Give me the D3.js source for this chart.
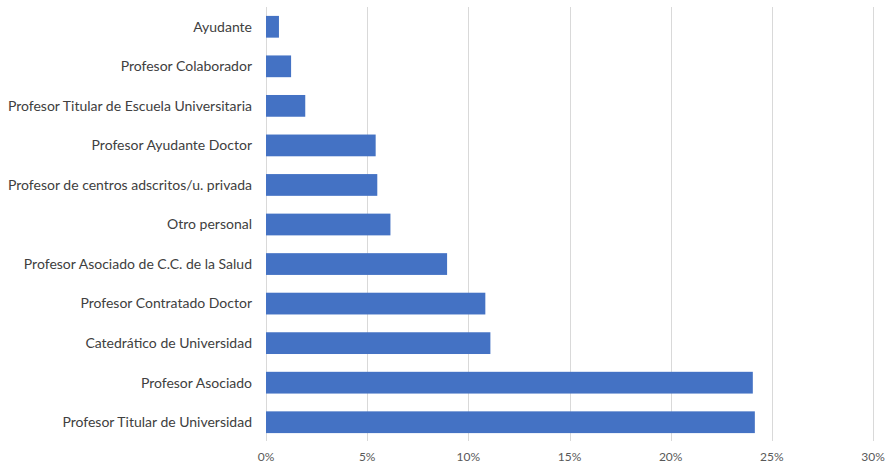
<!DOCTYPE html>
<html>
  <head>
    <meta charset="utf-8" />
    <title>Personal por categoría</title>
    <script src="https://d3js.org/d3.v7.min.js"></script>
  </head>
  <style>
    body {
      margin: 0;
      background-color: white;
    }
    .cat-label {
      font-family: "Lato", "Open Sans", sans-serif;
      font-size: 14px;
      fill: #404040;
    }
    .tick-label {
      font-family: "Lato", "Open Sans", sans-serif;
      font-size: 12px;
      fill: #595959;
    }
  </style>
  <body>
    <div id="chart"></div>
    <script>

    // categories, top to bottom
    var categories = [
      "Ayudante",
      "Profesor Colaborador",
      "Profesor Titular de Escuela Universitaria",
      "Profesor Ayudante Doctor",
      "Profesor de centros adscritos/u. privada",
      "Otro personal",
      "Profesor Asociado de C.C. de la Salud",
      "Profesor Contratado Doctor",
      "Catedrático de Universidad",
      "Profesor Asociado",
      "Profesor Titular de Universidad"
    ];

    // share of staff, percent
    var values = [0.64, 1.24, 1.94, 5.42, 5.50, 6.15, 8.95, 10.84, 11.09, 24.06, 24.16];

    var ticks = [0, 5, 10, 15, 20, 25, 30];

    var width = 888;
    var height = 464;

    var x = d3.scaleLinear().domain([0, 30]).range([266, 873]);
    var y = d3.scaleBand().domain(categories).range([7, 442]).paddingInner(0.45).paddingOuter(0.225);

    var svg = d3.select("#chart").append("svg")
        .attr("width", width)
        .attr("height", height);

    // vertical gridlines
    svg.append("g")
      .selectAll("line")
      .data(ticks)
      .enter().append("line")
        .attr("x1", d => Math.round(x(d)) + 0.5)
        .attr("x2", d => Math.round(x(d)) + 0.5)
        .attr("y1", 7)
        .attr("y2", 441)
        .style("stroke", "#d9d9d9")
        .style("stroke-width", 1);

    // bars
    svg.append("g")
      .selectAll("rect")
      .data(values)
      .enter().append("rect")
        .attr("x", x(0))
        .attr("y", (d, i) => y(categories[i]))
        .attr("width", d => x(d) - x(0))
        .attr("height", y.bandwidth())
        .style("fill", "#4472c4");

    // category labels
    svg.append("g")
      .selectAll("text")
      .data(categories)
      .enter().append("text")
        .attr("class", "cat-label")
        .attr("x", 252)
        .attr("y", d => y(d) + y.bandwidth() / 2)
        .attr("dy", "0.35em")
        .attr("text-anchor", "end")
        .text(d => d);

    // x axis tick labels
    svg.append("g")
      .selectAll("text")
      .data(ticks)
      .enter().append("text")
        .attr("class", "tick-label")
        .attr("x", d => x(d))
        .attr("y", 457)
        .attr("dy", "0.35em")
        .attr("text-anchor", "middle")
        .text(d => d + "%");

    </script>
  </body>
</html>
